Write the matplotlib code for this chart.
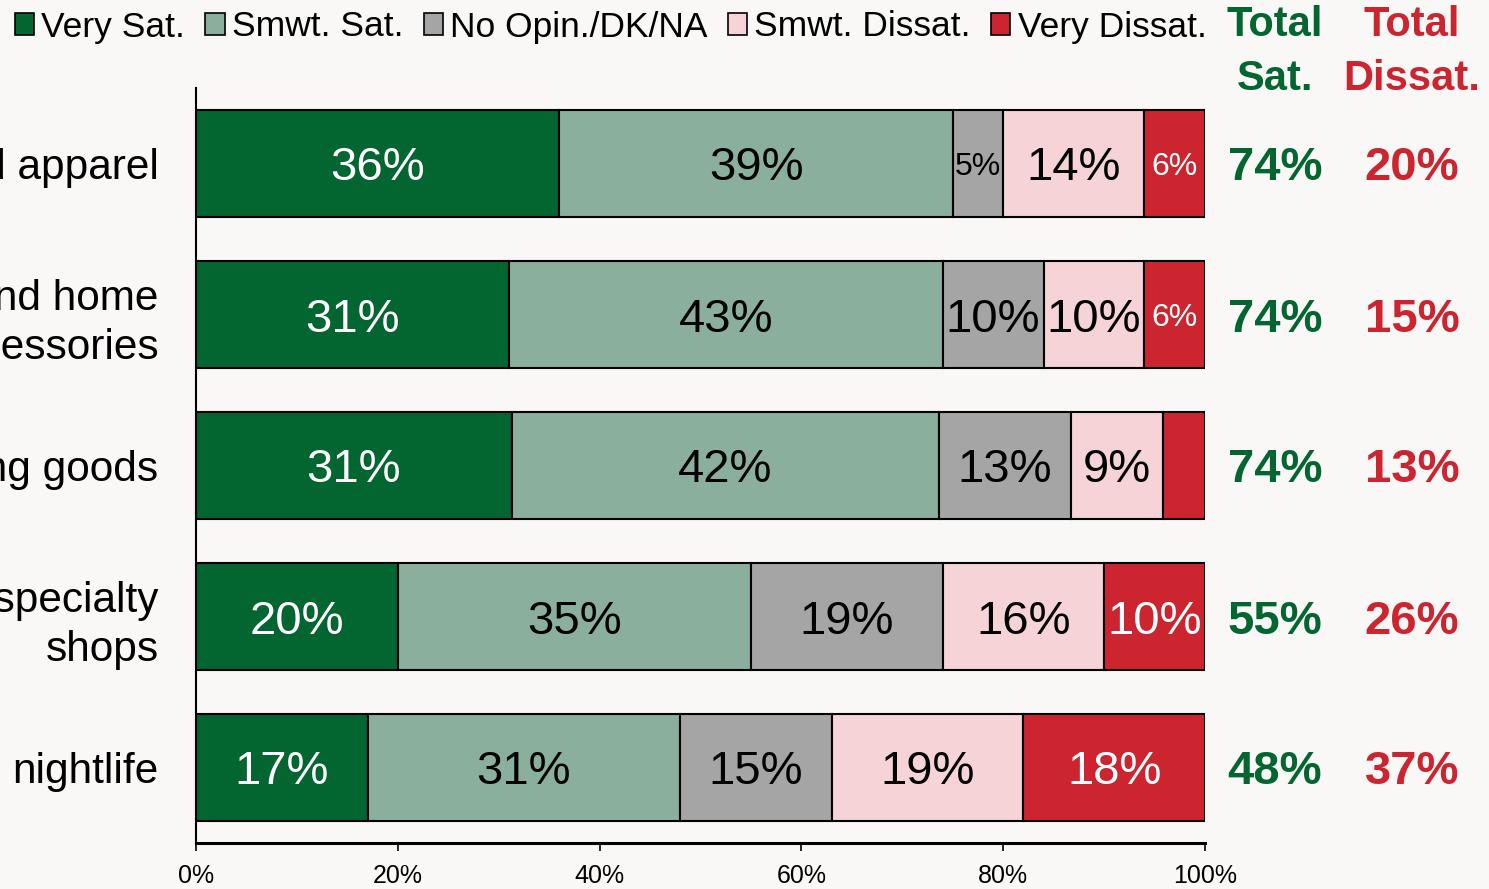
import matplotlib
matplotlib.use("Agg")
import matplotlib.pyplot as plt
from matplotlib.patches import Patch
from matplotlib.transforms import blended_transform_factory
from matplotlib.ticker import PercentFormatter

plt.rcParams["font.family"] = ["Liberation Sans", "DejaVu Sans"]

# data (percent of respondents)
categories = ["Clothing and apparel", "Furniture and home\naccessories", "Sporting goods",
              "Other specialty\nshops", "nightlife"]
series = ["Very Sat.", "Smwt. Sat.", "No Opin./DK/NA", "Smwt. Dissat.", "Very Dissat."]
very_sat = [36, 31, 31.3, 20, 17]
smwt_sat = [39, 43, 42.3, 35, 31]
no_opin = [5, 10, 13.1, 19, 15]
smwt_dissat = [14, 10, 9.1, 16, 19]
very_dissat = [6, 6, 4.2, 10, 18]
seg_labels = [
    ["36%", "39%", "5%", "14%", "6%"],
    ["31%", "43%", "10%", "10%", "6%"],
    ["31%", "42%", "13%", "9%", ""],
    ["20%", "35%", "19%", "16%", "10%"],
    ["17%", "31%", "15%", "19%", "18%"],
]
total_sat = ["74%", "74%", "74%", "55%", "48%"]
total_dissat = ["20%", "15%", "13%", "26%", "37%"]

colors = ["#036530", "#8aaf9c", "#a5a5a5", "#f5d3d6", "#cc2530"]
text_colors = ["white", "black", "black", "black", "white"]
GREEN, RED = "#036530", "#cc2530"
BG = "#f9f8f6"

fig = plt.figure(figsize=(14.89, 8.89), dpi=100, facecolor=BG)
ax = fig.add_axes([196 / 1489, 1 - 843 / 889, (1205 - 196) / 1489, (843 - 88) / 889], facecolor=BG)

data = [very_sat, smwt_sat, no_opin, smwt_dissat, very_dissat]
y = list(range(len(categories)))
left = [0] * len(categories)
for si, vals in enumerate(data):
    bars = ax.barh(y, vals, left=left, height=0.715, color=colors[si],
                   edgecolor="black", linewidth=1.5, label=series[si], zorder=2)
    for ri, b in enumerate(bars):
        lab = seg_labels[ri][si]
        if lab:
            fs = 34 if vals[ri] >= 8 else 23
            ax.text(b.get_x() + b.get_width() / 2, ri, lab, ha="center", va="center_baseline",
                    fontsize=fs, color=text_colors[si], zorder=3)
    left = [l + v for l, v in zip(left, vals)]

ax.set_xlim(0, 100)
ax.set_ylim(len(categories) - 0.5, -0.5)
ax.xaxis.set_major_formatter(PercentFormatter(decimals=0))
ax.set_xticks(range(0, 101, 20))
ax.tick_params(axis="x", direction="out", length=6, width=1.2, labelsize=18, pad=9)
ax.set_yticks(y)
ax.set_yticklabels(categories, fontsize=30.5, linespacing=1.3)
ax.tick_params(axis="y", length=0, pad=27)
for s in ("top", "right"):
    ax.spines[s].set_visible(False)
ax.spines["left"].set_linewidth(1.5)
ax.spines["bottom"].set_linewidth(2.2)

# totals columns
tr = blended_transform_factory(fig.transFigure, ax.transData)
for ri in y:
    ax.text(1275 / 1489, ri, total_sat[ri], transform=tr, ha="center", va="center_baseline",
            fontsize=34, fontweight="bold", color=GREEN)
    ax.text(1412 / 1489, ri, total_dissat[ri], transform=tr, ha="center", va="center_baseline",
            fontsize=34, fontweight="bold", color=RED)

hdr = dict(ha="center", va="center_baseline", fontsize=30, fontweight="bold")
fig.text(1275 / 1489, 1 - 21 / 889, "Total", color=GREEN, **hdr)
fig.text(1275 / 1489, 1 - 74 / 889, "Sat.", color=GREEN, **hdr)
fig.text(1412 / 1489, 1 - 21 / 889, "Total", color=RED, **hdr)
fig.text(1412 / 1489, 1 - 74 / 889, "Dissat.", color=RED, **hdr)

handles = [Patch(facecolor=c, edgecolor="black", linewidth=1.2) for c in colors]
fig.legend(handles, series, loc="center left", bbox_to_anchor=(4 / 1489, 1 - 27 / 889), ncol=5,
           frameon=False, fontsize=25.5, handlelength=0.55, handleheight=0.55,
           handletextpad=0.2, columnspacing=0.57, borderaxespad=0, borderpad=0.3)

fig.savefig("out.png", dpi=100, facecolor=BG)
